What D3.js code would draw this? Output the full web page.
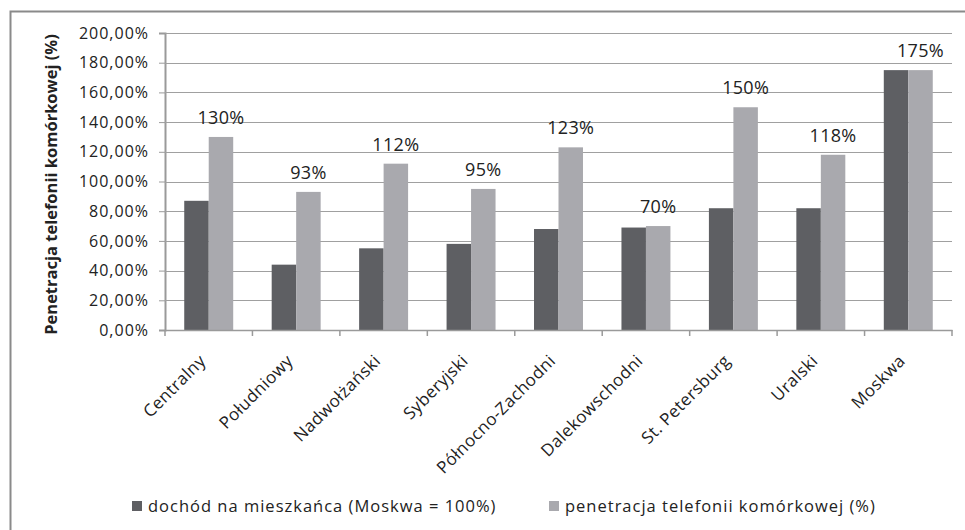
<!DOCTYPE html>
<html><head><meta charset="utf-8">
<script src="https://cdn.jsdelivr.net/npm/d3@7"></script>
<style>
html,body{margin:0;padding:0;background:#fff;}
svg{display:block;}
text{font-family:"Open Sans",sans-serif;fill:#222;}
</style></head>
<body>
<svg id="chart" width="965" height="530"></svg>
<script>
const categories = ["Centralny","Południowy","Nadwołżański","Syberyjski","Północno-Zachodni","Dalekowschodni","St. Petersburg","Uralski","Moskwa"];
const seriesNames = ["dochód na mieszkańca (Moskwa = 100%)","penetracja telefonii komórkowej (%)"];
const incomeValues = [87, 44, 55, 58, 68, 69, 82, 82, 175];
const mobileValues = [130, 93, 112, 95, 123, 70, 150, 118, 175];
const yTicks = [0,20,40,60,80,100,120,140,160,180,200];
const yTitle = "Penetracja telefonii komórkowej (%)";
const colors = ["#5e5f63","#a9a9ae"];

const svg = d3.select("#chart");
const W = 965, H = 530;
const plot = {left:165, right:952, top:33, bottom:330};

// outer border
svg.append("rect").attr("x",10.5).attr("y",11.5).attr("width",W).attr("height",H)
  .attr("fill","none").attr("stroke","#8a8a8a").attr("stroke-width",2);

const x = d3.scaleBand().domain(categories).range([plot.left, plot.right]).paddingInner(0).paddingOuter(0);
const xs = d3.scaleBand().domain([0,1]).range([x.bandwidth()*0.22, x.bandwidth()*0.78]).padding(0);
const y = d3.scaleLinear().domain([0,200]).range([plot.bottom, plot.top]);

// gridlines + y axis
const yAxis = d3.axisLeft(y).tickValues(yTicks).tickSize(6).tickPadding(10)
  .tickFormat(d => d3.format(".2f")(d).replace(".", ",") + "%");
const gy = svg.append("g").attr("transform",`translate(${plot.left},0)`).call(yAxis);
gy.select(".domain").attr("stroke","#9a9a9a").attr("stroke-width",2);
gy.selectAll(".tick line").attr("stroke","#9a9a9a");
gy.selectAll(".tick text").attr("font-size",16).attr("font-family","Open Sans").attr("fill","#222").attr("letter-spacing","1px");
svg.append("g").selectAll("line").data(yTicks.filter(d=>d>0)).join("line")
  .attr("x1",plot.left).attr("x2",plot.right)
  .attr("y1",d=>Math.round(y(d))+0.5).attr("y2",d=>Math.round(y(d))+0.5)
  .attr("stroke","#a0a0a0").attr("stroke-width",1.2);

// bars
const data = categories.map((c,i)=>({cat:c, vals:[incomeValues[i], mobileValues[i]]}));
const groups = svg.append("g").selectAll("g").data(data).join("g")
  .attr("transform",d=>`translate(${x(d.cat)},0)`);
groups.selectAll("rect").data(d=>d.vals.map((v,k)=>({v,k}))).join("rect")
  .attr("x",d=>xs(d.k)).attr("width",xs.bandwidth())
  .attr("y",d=>y(d.v)).attr("height",d=>y(0)-y(d.v))
  .attr("fill",d=>colors[d.k]);

// data labels on mobile series
groups.append("text")
  .attr("x",xs(1)+xs.bandwidth()/2)
  .attr("y",d=>y(d.vals[1])-13)
  .attr("text-anchor","middle").attr("font-size",18).attr("letter-spacing","0.3px").attr("fill","#222")
  .text(d=>d.vals[1]+"%");

// x axis
const xAxis = d3.axisBottom(x).tickSize(0).tickFormat("");
const gx = svg.append("g").attr("transform",`translate(0,${plot.bottom})`).call(xAxis);
gx.select(".domain").attr("stroke","#9a9a9a").attr("stroke-width",1.5);
const bounds = categories.map(c=>x(c)).concat([plot.right]);
svg.append("g").selectAll("line").data(bounds).join("line")
  .attr("x1",d=>d).attr("x2",d=>d).attr("y1",plot.bottom).attr("y2",plot.bottom+6)
  .attr("stroke","#9a9a9a").attr("stroke-width",1.5);
svg.append("g").selectAll("text").data(categories).join("text")
  .attr("transform",c=>`translate(${x(c)+x.bandwidth()/2-2},${plot.bottom+32}) rotate(-45)`)
  .attr("text-anchor","end").attr("font-size",17).attr("letter-spacing","0.4px").attr("fill","#222")
  .text(c=>c);

// y title
svg.append("text")
  .attr("transform",`translate(57,${(plot.top+plot.bottom)/2+3}) rotate(-90)`)
  .attr("text-anchor","middle").attr("font-size",16.5).attr("font-weight","bold").attr("fill","#111")
  .text(yTitle);

// legend
const legX = [132, 549];
const leg = svg.append("g").selectAll("g").data(seriesNames).join("g")
  .attr("transform",(d,i)=>`translate(${legX[i]},506)`);
leg.append("rect").attr("x",0).attr("y",-5).attr("width",10).attr("height",10).attr("fill",(d,i)=>colors[i]);
leg.append("text").attr("x",16).attr("y",0).attr("dy","0.35em").attr("font-size",16.5).attr("letter-spacing","1px").attr("fill","#222").text(d=>d);
</script>
</body></html>
